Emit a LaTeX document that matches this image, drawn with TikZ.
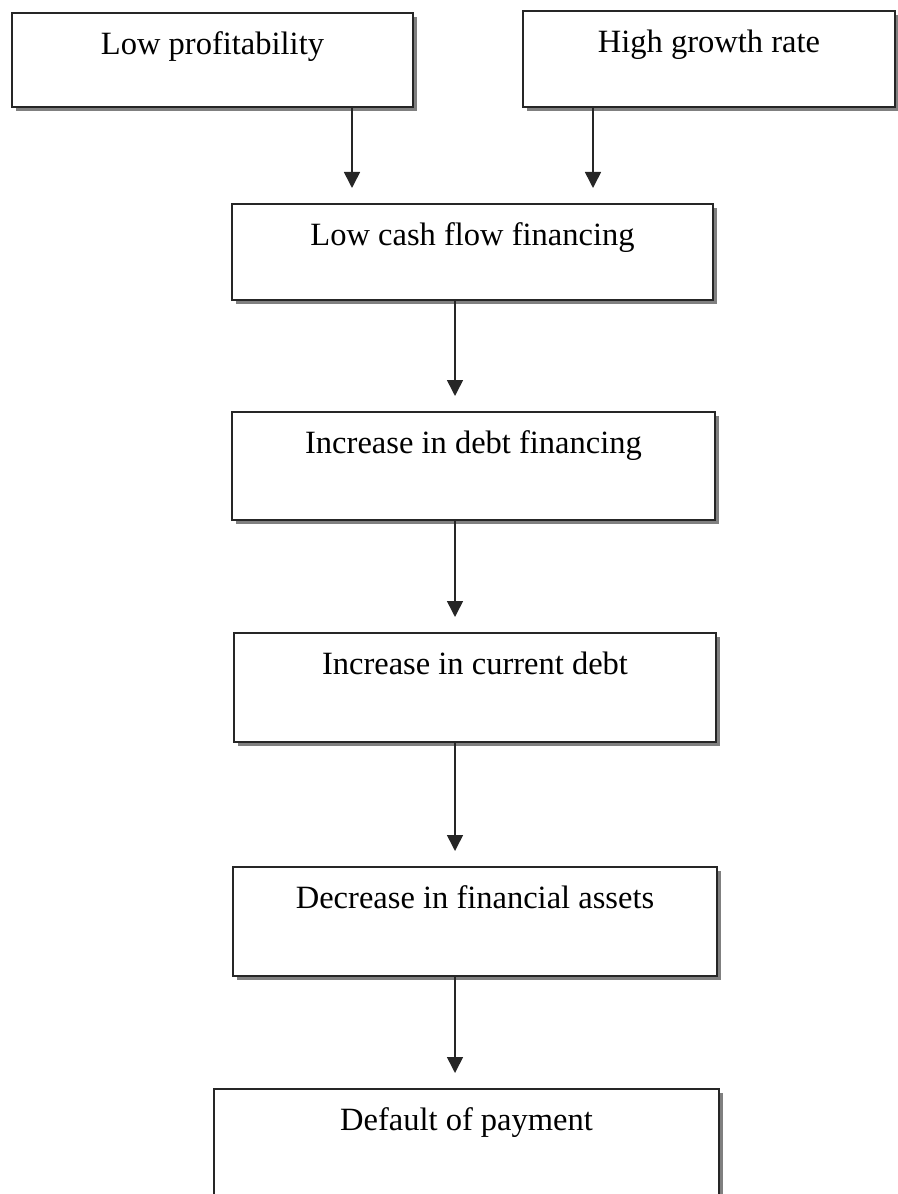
\documentclass[tikz,border=0pt]{standalone}
\usepackage{fontspec}
\setmainfont{Liberation Serif}
\usetikzlibrary{arrows.meta,shadows}

\begin{document}
\begin{tikzpicture}[
    flowbox/.style 2 args={draw=black!85, line width=1.3pt, fill=white,
      inner sep=0pt, anchor=north, minimum width=#1,
      text height=0.82cm, text depth=#2,
      font=\fontsize{18.5}{22}\selectfont,
      drop shadow={shadow xshift=2.2pt, shadow yshift=-2.2pt,
        fill=black!50, draw=none, opacity=1}},
    flowarrow/.style={-{Triangle[length=0.32cm, width=0.32cm]},
      line width=0.9pt, draw=black!85, shorten >=0.3cm}]
  \useasboundingbox (0,0) rectangle (17.94,-23.88);

  \node[flowbox={8.02cm}{1.06cm}] (LP) at (4.25,-0.24) {Low profitability};
  \node[flowbox={7.44cm}{1.10cm}] (HG) at (14.18,-0.20) {High growth rate};
  \node[flowbox={9.62cm}{1.10cm}] (LC) at (9.45,-4.06) {Low cash flow financing};
  \node[flowbox={9.66cm}{1.34cm}] (ID) at (9.47,-8.22) {Increase in debt financing};
  \node[flowbox={9.64cm}{1.36cm}] (IC) at (9.50,-12.64) {Increase in current debt};
  \node[flowbox={9.68cm}{1.36cm}] (DF) at (9.50,-17.32) {Decrease in financial assets};
  \node[flowbox={10.10cm}{1.60cm}] (DP) at (9.33,-21.76) {Default of payment};

  % columns the arrows run along
  \coordinate (leftdrop) at (7.04,0);
  \coordinate (rightdrop) at (11.86,0);
  \coordinate (spine) at (9.10,0);

  \draw[flowarrow] (LP.south -| leftdrop) -- (LC.north -| leftdrop);
  \draw[flowarrow] (HG.south -| rightdrop) -- (LC.north -| rightdrop);
  \draw[flowarrow] (LC.south -| spine) -- (ID.north -| spine);
  \draw[flowarrow] (ID.south -| spine) -- (IC.north -| spine);
  \draw[flowarrow] (IC.south -| spine) -- (DF.north -| spine);
  \draw[flowarrow] (DF.south -| spine) -- (DP.north -| spine);
\end{tikzpicture}
\end{document}
